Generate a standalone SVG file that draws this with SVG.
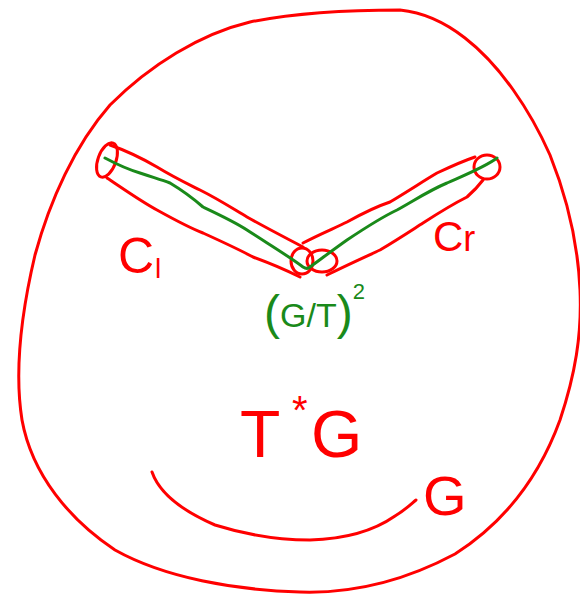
<svg xmlns="http://www.w3.org/2000/svg" width="580" height="596" viewBox="0 0 580 596">
<style>
.r{fill:none;stroke:#ff0000;stroke-width:3;stroke-linecap:round;stroke-linejoin:round}
.g{fill:none;stroke:#1a8a1a;stroke-width:3;stroke-linecap:round;stroke-linejoin:round}
.tr{fill:#ff0000;font-family:"Liberation Sans",Arial,sans-serif}
.tg{fill:#1a8a1a;font-family:"Liberation Sans",Arial,sans-serif}
</style>
<rect width="580" height="596" fill="#ffffff"/>
<g id="G-outer">
<path class="r" d="M400,10 C360,10 300,12 250,22 C200,34 150,65 110,105 C75,145 50,200 35,255 C22,310 14,370 22,420 C32,475 70,520 115,550 C165,578 235,590 300,592 C360,594 410,578 455,554 C505,522 540,475 560,420 C575,375 582,335 580,290 C578,245 568,200 550,155 C530,110 500,65 465,38 C442,20 420,12 400,10 Z"/>
<path class="r" d="M152,472 C160,495 185,512 215,525 C250,536 280,540 310,540 C345,539 375,530 395,516 C405,510 410,505 416,500"/>
<text class="tr" x="423" y="515" font-size="56">G</text>
</g>
<g id="TG">
<text class="tr" x="240" y="457" font-size="66">T</text>
<text class="tr" x="292" y="424" font-size="40">*</text>
<text class="tr" x="311" y="457" font-size="66">G</text>
</g>
<g id="Cl">
<path class="r" d="M110,145 C130,152 145,160 157,167 C175,178 188,184 200,190 C220,200 235,210 247,217 C270,230 290,240 303,247"/>
<path class="r" d="M107,178 C125,190 142,202 157,210 C175,220 190,228 203,233 C225,243 240,250 253,257 C275,265 290,272 300,277"/>
<ellipse class="r" cx="107" cy="160" rx="9" ry="18" transform="rotate(20 107 160)"/>
<text class="tr" x="118" y="273" font-size="50">C</text>
<text class="tr" x="155" y="278" font-size="28">l</text>
</g>
<g id="Cr">
<path class="r" d="M303,243 C320,234 335,228 347,222 C365,212 378,206 390,202 C410,190 425,180 437,173 C452,166 463,161 475,157"/>
<path class="r" d="M327,275 C345,266 365,257 380,250 C400,238 412,230 423,223 C440,212 455,203 467,197 C475,190 480,184 483,180"/>
<ellipse class="r" cx="487" cy="167" rx="13" ry="12"/>
<text class="tr" x="433" y="251" font-size="42">C<tspan font-size="36">r</tspan></text>
</g>
<g id="junction">
<ellipse class="r" cx="302" cy="261" rx="11" ry="13"/>
<ellipse class="r" cx="322" cy="261" rx="15" ry="11"/>
</g>
<g id="connectors">
<path class="g" d="M105,158 C120,166 130,170 140,173 C155,178 162,180 170,183 C185,192 195,200 203,207 C220,215 235,222 247,230 C270,245 290,257 303,267 C306,269 308,269 310,267 C325,256 337,247 347,240 C365,228 380,218 397,210 C415,200 430,190 447,183 C465,175 485,167 497,158"/>
</g>
<g id="GT2">
<text class="tg" x="264" y="327" font-size="34"><tspan font-size="48" dy="2">(</tspan><tspan dy="-2">G/T</tspan><tspan font-size="48" dy="2">)</tspan><tspan font-size="22" dy="-30">2</tspan></text>
</g>
</svg>
